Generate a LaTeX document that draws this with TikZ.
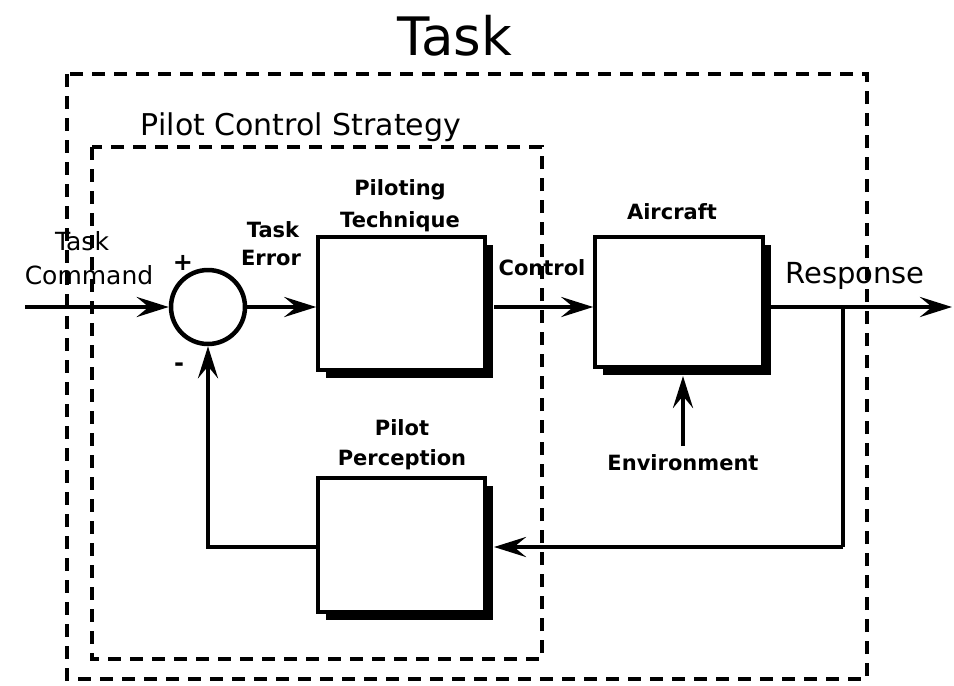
\documentclass[tikz,border=0pt]{standalone}
\usepackage{fontspec}
\setmainfont{DejaVu Sans}
\usetikzlibrary{arrows.meta,shadows}
\begin{document}
\begin{tikzpicture}[x=1pt,y=-1pt,
  blk/.style={draw=black,line width=3.5pt,fill=white,rectangle,inner sep=0pt,
    drop shadow={shadow xshift=8pt,shadow yshift=-8pt,fill=black,opacity=1}},
  sumc/.style={draw=black,line width=4.5pt,circle,minimum size=74pt,inner sep=0pt},
  sig/.style={line width=4.5pt,-{Stealth[length=32pt,width=20pt,inset=12pt]}},
  wire/.style={line width=4.5pt},
  frame/.style={line width=3.5pt,dash pattern=on 13pt off 9pt},
  lbl/.style={font=\bfseries\fontsize{21}{23}\selectfont,inner sep=0pt},
  big/.style={font=\fontsize{25}{28}\selectfont,inner sep=0pt}]
\useasboundingbox (0,0) rectangle (954,686);
% frames
\draw[frame] (67,74) rectangle (867,679);
\draw[frame] (92,147) rectangle (542,659);
\node[font=\fontsize{53}{56}\selectfont,inner sep=0pt] (ttl) at (455,36) {Task};
\node[font=\fontsize{30}{32}\selectfont,inner sep=0pt] (pcs) at (301,127) {Pilot Control Strategy};
% blocks
\node[blk,minimum width=167pt,minimum height=133pt] (pt) at (401.5,303.5) {};
\node[blk,minimum width=168pt,minimum height=130pt] (ac) at (679,302) {};
\node[blk,minimum width=167pt,minimum height=134pt] (pp) at (401.5,545) {};
\node[sumc] (sum) at (208,307) {};
% labels
\node[lbl] (l1) at (400,190) {Piloting};
\node[lbl] (l2) at (400,222) {Technique};
\node[lbl] (l3) at (672,212) {Aircraft};
\node[lbl] (l4) at (402,428) {Pilot};
\node[lbl] (l5) at (402,460) {Perception};
\node[lbl] (l6) at (273,230) {Task};
\node[lbl] (l7) at (271,258) {Error};
\node[lbl] (l8) at (542,268) {Control};
\node[lbl] (env) at (683,463) {Environment};
\node[big] (tc1) at (82,241) {Task};
\node[big] (tc2) at (89,275) {Command};
\node[font=\fontsize{29}{31}\selectfont,inner sep=0pt] (resp) at (855,276) {Response};
\node[font=\bfseries\fontsize{24}{26}\selectfont,inner sep=0pt] (plus) at (183,263) {+};
\node[font=\bfseries\fontsize{24}{26}\selectfont,inner sep=0pt] (minus) at (179,367) {-};
% coordinates
\coordinate (in) at (25,307);
\coordinate (out) at (952,307);
\coordinate (br) at (843,307);
\coordinate (brd) at (843,547);
\coordinate (ppr) at (494,547);
\coordinate (fbl) at (208,547);
\coordinate (acs) at (494,307);
\coordinate (aco) at (771,307);
\coordinate (envt) at (683,446);
\coordinate (acb) at (683,376);
% signals
\draw[sig] (in) -- (sum.west);
\draw[sig] (sum.east) -- (pt.west |- sum.east);
\draw[sig] (acs) -- (ac.west |- acs);
\draw[sig] (aco) -- (out);
\draw[wire] (br) -- (brd);
\draw[sig] (brd) -- (ppr);
\draw[wire,line cap=rect] (pp.west |- fbl) -- (fbl);
\draw[sig] (fbl) -- (sum.south);
\draw[sig] (envt) -- (acb);
\end{tikzpicture}
\end{document}
